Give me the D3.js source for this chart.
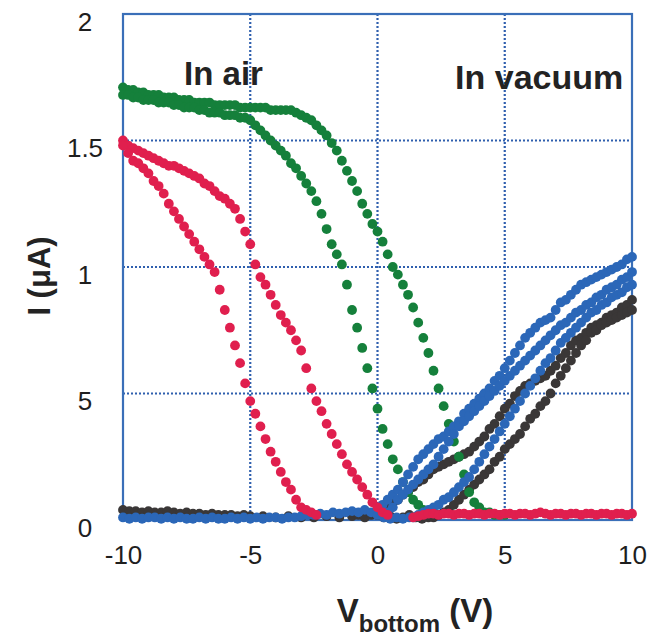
<!DOCTYPE html>
<html>
<head>
<meta charset="utf-8">
<script src="https://cdn.jsdelivr.net/npm/d3@7"></script>
<style>
  body { margin: 0; background: #fff; }
  svg { font-family: "Liberation Sans", Arial, sans-serif; }
  .tick text { font-size: 26px; fill: #1e1e1e; }
  .title { font-weight: bold; fill: #232323; }
</style>
</head>
<body>
<div id="chart"></div>
<script>
// ---- data: [V, I] ----
var xTicks = [-10, -5, 0, 5, 10],
    yTicks = [0, 0.5, 1, 1.5, 2],
    yTickLabels = ["0", "5", "1", "1.5", "2"];

var greenUp = [[-10,1.71],[-9.8,1.70],[-9.6,1.70],[-9.4,1.69],[-9.2,1.69],[-9,1.68],[-8.8,1.68],[-8.6,1.68],[-8.4,1.67],[-8.2,1.67],[-8,1.67],[-7.8,1.66],[-7.6,1.66],[-7.4,1.66],[-7.2,1.65],[-7,1.65],[-6.8,1.65],[-6.6,1.65],[-6.4,1.64],[-6.2,1.64],[-6,1.64],[-5.8,1.64],[-5.6,1.64],[-5.4,1.63],[-5.2,1.63],[-5,1.63],[-4.8,1.63],[-4.6,1.63],[-4.4,1.63],[-4.2,1.62],[-4,1.62],[-3.8,1.62],[-3.6,1.62],[-3.4,1.62],[-3.2,1.61],[-3,1.60],[-2.8,1.59],[-2.6,1.58],[-2.4,1.56],[-2.2,1.54],[-2,1.52],[-1.8,1.49],[-1.6,1.46],[-1.4,1.42],[-1.2,1.38],[-1,1.34],[-0.8,1.30],[-0.6,1.25],[-0.4,1.21],[-0.2,1.17],[0,1.14],[0.2,1.10],[0.4,1.05],[0.6,1.00],[0.8,0.97],[1,0.93],[1.2,0.89],[1.4,0.84],[1.6,0.78],[1.8,0.72],[2,0.66],[2.2,0.59],[2.4,0.52],[2.6,0.45],[2.8,0.38],[3,0.31],[3.2,0.25],[3.4,0.18],[3.6,0.11],[3.8,0.07],[4,0.05],[4.2,0.03],[4.4,0.03],[4.6,0.02],[4.8,0.02],[5,0.02]];

var greenDown = [[-10,1.68],[-9.8,1.68],[-9.6,1.67],[-9.4,1.67],[-9.2,1.66],[-9,1.66],[-8.8,1.66],[-8.6,1.65],[-8.4,1.65],[-8.2,1.65],[-8,1.64],[-7.8,1.64],[-7.6,1.63],[-7.4,1.63],[-7.2,1.63],[-7,1.62],[-6.8,1.62],[-6.6,1.61],[-6.4,1.61],[-6.2,1.61],[-6,1.60],[-5.8,1.60],[-5.6,1.60],[-5.4,1.59],[-5.2,1.59],[-5,1.58],[-4.8,1.56],[-4.6,1.54],[-4.4,1.52],[-4.2,1.50],[-4,1.48],[-3.8,1.46],[-3.6,1.44],[-3.4,1.41],[-3.2,1.39],[-3,1.36],[-2.8,1.33],[-2.6,1.30],[-2.4,1.26],[-2.2,1.21],[-2,1.15],[-1.8,1.09],[-1.6,1.05],[-1.4,1.01],[-1.2,0.93],[-1,0.83],[-0.8,0.76],[-0.6,0.68],[-0.4,0.60],[-0.2,0.52],[0,0.44],[0.2,0.36],[0.4,0.30],[0.6,0.24],[0.8,0.20],[1,0.15],[1.2,0.11],[1.4,0.08],[1.6,0.06],[1.8,0.04],[2,0.03],[2.2,0.03]];

var redUp = [[-10,1.50],[-9.8,1.48],[-9.6,1.47],[-9.4,1.46],[-9.2,1.45],[-9,1.44],[-8.8,1.43],[-8.6,1.42],[-8.4,1.41],[-8.2,1.40],[-8,1.40],[-7.8,1.39],[-7.6,1.38],[-7.4,1.37],[-7.2,1.36],[-7,1.35],[-6.8,1.33],[-6.6,1.32],[-6.4,1.30],[-6.2,1.28],[-6,1.27],[-5.8,1.25],[-5.6,1.23],[-5.4,1.19],[-5.2,1.14],[-5,1.09],[-4.8,1.01],[-4.6,0.96],[-4.4,0.93],[-4.2,0.89],[-4,0.85],[-3.8,0.81],[-3.6,0.78],[-3.4,0.75],[-3.2,0.71],[-3,0.67],[-2.8,0.60],[-2.6,0.52],[-2.4,0.47],[-2.2,0.43],[-2,0.38],[-1.8,0.34],[-1.6,0.30],[-1.4,0.26],[-1.2,0.22],[-1,0.19],[-0.8,0.16],[-0.6,0.13],[-0.4,0.10],[-0.2,0.07],[0,0.05],[0.2,0.03],[0.4,0.02]];

var redDown = [[-10,1.48],[-9.8,1.45],[-9.6,1.42],[-9.4,1.41],[-9.2,1.39],[-9,1.37],[-8.8,1.34],[-8.6,1.32],[-8.4,1.29],[-8.2,1.25],[-8,1.22],[-7.8,1.19],[-7.6,1.16],[-7.4,1.13],[-7.2,1.10],[-7,1.07],[-6.8,1.04],[-6.6,1.01],[-6.4,0.98],[-6.2,0.91],[-6,0.83],[-5.8,0.76],[-5.6,0.69],[-5.4,0.62],[-5.2,0.54],[-5,0.47],[-4.8,0.42],[-4.6,0.37],[-4.4,0.32],[-4.2,0.27],[-4,0.23],[-3.8,0.19],[-3.6,0.15],[-3.4,0.12],[-3.2,0.08],[-3,0.05],[-2.8,0.04],[-2.6,0.03],[-2.4,0.02]];

var redBase = [[1.4,0.01],[1.6,0.015],[1.8,0.02],[2,0.025],[2.2,0.025],[2.4,0.02],[2.6,0.025],[2.8,0.025],[3,0.02],[3.2,0.025],[3.4,0.025],[3.6,0.02],[3.8,0.025],[4,0.025],[4.2,0.02],[4.4,0.025],[4.6,0.025],[4.8,0.02],[5,0.025],[5.2,0.025],[5.4,0.02],[5.6,0.025],[5.8,0.025],[6,0.02],[6.2,0.025],[6.4,0.03],[6.6,0.025],[6.8,0.02],[7,0.025],[7.2,0.025],[7.4,0.02],[7.6,0.025],[7.8,0.025],[8,0.02],[8.2,0.025],[8.4,0.025],[8.6,0.02],[8.8,0.025],[9,0.025],[9.2,0.02],[9.4,0.025],[9.6,0.025],[9.8,0.02],[10,0.025]];

var blackBase = [[-10,0.04],[-9.75,0.035],[-9.5,0.035],[-9.25,0.03],[-9,0.035],[-8.75,0.03],[-8.5,0.03],[-8.25,0.035],[-8,0.03],[-7.75,0.025],[-7.5,0.03],[-7.25,0.025],[-7,0.025],[-6.75,0.02],[-6.5,0.025],[-6.25,0.02],[-6,0.02],[-5.75,0.02],[-5.5,0.015],[-5.25,0.02],[-5,0.015],[-4.5,0.015],[-4,0.01],[-3.5,0.015],[-3,0.01],[-2.5,0.01],[-2,0.015],[-1.5,0.01],[-1,0.015],[-0.75,0.02],[-0.5,0.01],[-0.25,0.02],[0.25,0.01],[0.5,0.015],[0.75,0.005],[1,0.01],[1.25,0.02],[1.5,0.01],[1.75,0.005]];

var blackUp = [[0,0.02],[0.2,0.03],[0.4,0.05],[0.6,0.07],[0.8,0.08],[1,0.10],[1.2,0.11],[1.4,0.13],[1.6,0.15],[1.8,0.16],[2,0.18],[2.2,0.20],[2.4,0.21],[2.6,0.22],[2.8,0.23],[3,0.24],[3.2,0.25],[3.4,0.26],[3.6,0.27],[3.8,0.29],[4,0.31],[4.2,0.33],[4.4,0.36],[4.6,0.38],[4.8,0.41],[5,0.44],[5.2,0.46],[5.4,0.49],[5.6,0.51],[5.8,0.53],[6,0.54],[6.2,0.55],[6.4,0.56],[6.6,0.57],[6.8,0.59],[7,0.61],[7.2,0.64],[7.4,0.66],[7.6,0.69],[7.8,0.71],[8,0.72],[8.2,0.74],[8.4,0.76],[8.6,0.77],[8.8,0.78],[9,0.80],[9.2,0.81],[9.4,0.82],[9.6,0.84],[9.8,0.85],[10,0.87]];

var blackDown = [[2,0.01],[2.2,0.01],[2.4,0.02],[2.6,0.03],[2.8,0.04],[3,0.06],[3.2,0.08],[3.4,0.10],[3.6,0.12],[3.8,0.14],[4,0.16],[4.2,0.18],[4.4,0.20],[4.6,0.23],[4.8,0.25],[5,0.28],[5.2,0.30],[5.4,0.32],[5.6,0.34],[5.8,0.37],[6,0.40],[6.2,0.42],[6.4,0.45],[6.6,0.47],[6.8,0.50],[7,0.54],[7.2,0.57],[7.4,0.60],[7.6,0.63],[7.8,0.66],[8,0.69],[8.2,0.71],[8.4,0.74],[8.6,0.75],[8.8,0.77],[9,0.78],[9.2,0.79],[9.4,0.80],[9.6,0.81],[9.8,0.82],[10,0.83]];

var blueBase = [[-10,0.01],[-9.75,0.005],[-9.5,0.01],[-9.25,0.005],[-9,0.01],[-8.75,0.01],[-8.5,0.005],[-8.25,0.01],[-8,0.005],[-7.75,0.01],[-7.5,0.005],[-7.25,0.005],[-7,0.01],[-6.75,0.005],[-6.5,0.01],[-6.25,0.005],[-6,0.005],[-5.75,0.01],[-5.5,0.005],[-5.25,0.01],[-5,0.005],[-4.75,0.01],[-4.5,0.005],[-4.25,0.01],[-4,0.01],[-3.75,0.005],[-3.5,0.01],[-3.25,0.01],[-3,0.015],[-2.75,0.02],[-2.5,0.02],[-2.25,0.025],[-2,0.02],[-1.75,0.03],[-1.5,0.025],[-1.25,0.03],[-1,0.035],[-0.75,0.03],[-0.5,0.04],[-0.25,0.03],[0,0.02],[0.25,0.01],[0.5,0.005],[0.75,0.01],[1,0.005],[1.25,0.01]];

var blueUp = [[0,0.04],[0.2,0.06],[0.4,0.08],[0.6,0.10],[0.8,0.12],[1,0.15],[1.2,0.18],[1.4,0.21],[1.6,0.24],[1.8,0.26],[2,0.28],[2.2,0.30],[2.4,0.32],[2.6,0.33],[2.8,0.35],[3,0.37],[3.2,0.39],[3.4,0.42],[3.6,0.44],[3.8,0.46],[4,0.48],[4.2,0.50],[4.4,0.52],[4.6,0.55],[4.8,0.57],[5,0.60],[5.2,0.63],[5.4,0.66],[5.6,0.69],[5.8,0.72],[6,0.74],[6.2,0.76],[6.4,0.78],[6.6,0.79],[6.8,0.80],[7,0.83],[7.2,0.86],[7.4,0.87],[7.6,0.89],[7.8,0.91],[8,0.93],[8.2,0.94],[8.4,0.95],[8.6,0.96],[8.8,0.97],[9,0.98],[9.2,0.99],[9.4,1.00],[9.6,1.01],[9.8,1.03],[10,1.04]];

var blueMid = [[0.4,0.03],[0.6,0.05],[0.8,0.08],[1,0.10],[1.2,0.12],[1.4,0.14],[1.6,0.16],[1.8,0.18],[2,0.20],[2.2,0.22],[2.4,0.25],[2.6,0.28],[2.8,0.31],[3,0.34],[3.2,0.37],[3.4,0.39],[3.6,0.41],[3.8,0.43],[4,0.45],[4.2,0.47],[4.4,0.49],[4.6,0.51],[4.8,0.53],[5,0.55],[5.2,0.57],[5.4,0.59],[5.6,0.61],[5.8,0.63],[6,0.65],[6.2,0.67],[6.4,0.69],[6.6,0.71],[6.8,0.73],[7,0.75],[7.2,0.77],[7.4,0.78],[7.6,0.80],[7.8,0.82],[8,0.83],[8.2,0.85],[8.4,0.86],[8.6,0.88],[8.8,0.89],[9,0.91],[9.2,0.92],[9.4,0.93],[9.6,0.95],[9.8,0.96],[10,0.98]];

var blueDown = [[1.4,0.01],[1.6,0.02],[1.8,0.03],[2,0.04],[2.2,0.05],[2.4,0.06],[2.6,0.08],[2.8,0.09],[3,0.11],[3.2,0.13],[3.4,0.15],[3.6,0.17],[3.8,0.20],[4,0.23],[4.2,0.26],[4.4,0.29],[4.6,0.32],[4.8,0.35],[5,0.38],[5.2,0.41],[5.4,0.44],[5.6,0.47],[5.8,0.50],[6,0.53],[6.2,0.56],[6.4,0.59],[6.6,0.62],[6.8,0.64],[7,0.67],[7.2,0.70],[7.4,0.72],[7.6,0.74],[7.8,0.76],[8,0.78],[8.2,0.80],[8.4,0.82],[8.6,0.83],[8.8,0.85],[9,0.86],[9.2,0.88],[9.4,0.89],[9.6,0.90],[9.8,0.92],[10,0.93]];

// drawing order: black, green, blue, red on top
var series = [
    {pts: blackBase, color: "#3a3737"},
    {pts: blackUp, color: "#3a3737"},
    {pts: blackDown, color: "#3a3737"},
    {pts: greenUp, color: "#15803b"},
    {pts: greenDown, color: "#15803b"},
    {pts: blueBase, color: "#2b67b8"},
    {pts: blueUp, color: "#2b67b8"},
    {pts: blueMid, color: "#2b67b8"},
    {pts: blueDown, color: "#2b67b8"},
    {pts: redUp, color: "#e01f4e"},
    {pts: redDown, color: "#e01f4e"},
    {pts: redBase, color: "#e01f4e"}
];

var margins = {top: 14, right: 34, bottom: 123, left: 123},
    width = 666 - margins.left - margins.right,
    height = 643 - margins.top - margins.bottom,
    gridColor = "#2f5fae";

var svg = d3.select("#chart").append("svg")
    .attr("width", 666)
    .attr("height", 643);

var g = svg.append("g")
    .attr("transform", "translate(" + margins.left + "," + margins.top + ")");

var x = d3.scaleLinear().domain([-10, 10]).range([0, width]);
var y = d3.scaleLinear().domain([0, 2]).range([height, 0]);

// dotted grid
g.selectAll(".vgrid").data([-5, 0, 5]).enter().append("line")
    .attr("x1", d => x(d)).attr("x2", d => x(d))
    .attr("y1", 0).attr("y2", height)
    .attr("stroke", gridColor).attr("stroke-width", 2.2)
    .attr("stroke-dasharray", "2,2");

g.selectAll(".hgrid").data([0.5, 1, 1.5]).enter().append("line")
    .attr("x1", 0).attr("x2", width)
    .attr("y1", d => y(d)).attr("y2", d => y(d))
    .attr("stroke", gridColor).attr("stroke-width", 2.2)
    .attr("stroke-dasharray", "2,2");

// frame
g.append("rect")
    .attr("width", width).attr("height", height)
    .attr("fill", "none")
    .attr("stroke", "#3a6fb8").attr("stroke-width", 2.2);

// axes (labels only)
var xAxis = d3.axisBottom(x).tickValues(xTicks).tickFormat(d => String(d)).tickSize(0);
var gx = g.append("g").attr("transform", "translate(0," + height + ")").call(xAxis);
gx.select(".domain").remove();
gx.selectAll("text").attr("y", 26).attr("font-size", 26);

var yAxis = d3.axisLeft(y).tickValues(yTicks).tickFormat((d, i) => yTickLabels[i]).tickSize(0);
var gy = g.append("g").call(yAxis);
gy.select(".domain").remove();
gy.selectAll("text").attr("x", -38).attr("dy", "0.62em")
    .attr("text-anchor", "middle").attr("font-size", 26);

// points
series.forEach(function(s) {
    g.append("g").selectAll("circle").data(s.pts).enter().append("circle")
        .attr("cx", d => x(d[0]))
        .attr("cy", d => y(d[1]))
        .attr("r", 4.9)
        .attr("fill", s.color);
});

// annotations
g.append("text").attr("class", "title")
    .attr("x", x(-7.6)).attr("y", 71)
    .attr("font-size", 33)
    .text("In air");

g.append("text").attr("class", "title")
    .attr("x", x(3.05)).attr("y", 75)
    .attr("font-size", 34)
    .text("In vacuum");

// axis titles
svg.append("text").attr("class", "title")
    .attr("transform", "translate(50,276) rotate(-90)")
    .attr("text-anchor", "middle")
    .attr("font-size", 31)
    .text("I (\u03bcA)");

var xt = svg.append("text").attr("class", "title")
    .attr("x", 415).attr("y", 622)
    .attr("text-anchor", "middle")
    .attr("font-size", 33);
xt.append("tspan").text("V");
xt.append("tspan").attr("font-size", 24).attr("dy", 10).text("bottom");
xt.append("tspan").attr("dy", -10).text(" (V)");
</script>
</body>
</html>
